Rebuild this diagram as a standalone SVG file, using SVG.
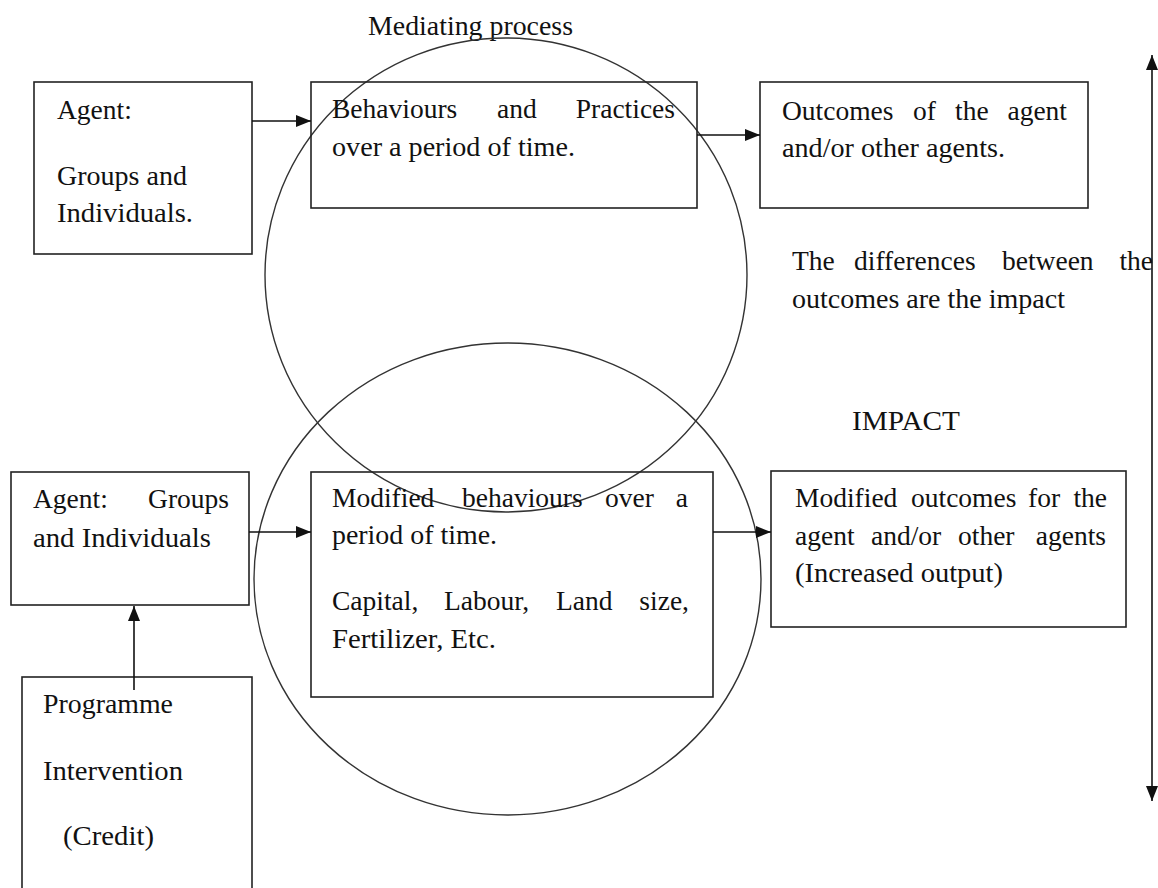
<svg xmlns="http://www.w3.org/2000/svg" width="1158" height="888" viewBox="0 0 1158 888">
<style>
.box{fill:none;stroke:#222;stroke-width:1.6}
.c{fill:none;stroke:#333;stroke-width:1.4}
.ln{fill:none;stroke:#111;stroke-width:1.6}
text{font-family:"Liberation Serif","Times New Roman",serif;font-size:27.5px;fill:#111}
.e{text-anchor:end}
</style>
<defs>
<marker id="ah" viewBox="0 0 15 12" refX="15" refY="6" markerWidth="15" markerHeight="12" markerUnits="userSpaceOnUse" orient="auto"><path d="M0,0 L15,6 L0,12 z" fill="#111"/></marker>
</defs>
<rect width="1158" height="888" fill="#fff"/>
<text x="368" y="35" textLength="205" lengthAdjust="spacingAndGlyphs">Mediating process</text>
<g id="circles">
<ellipse class="c" cx="506" cy="275" rx="241" ry="237"/>
<ellipse class="c" cx="507.5" cy="579" rx="253.5" ry="236"/>
</g>
<g id="agent1">
<rect class="box" x="34" y="82" width="218" height="172"/>
<text x="57" y="119">Agent:</text>
<text x="57" y="185" textLength="130" lengthAdjust="spacingAndGlyphs">Groups and</text>
<text x="57" y="222" textLength="136" lengthAdjust="spacingAndGlyphs">Individuals.</text>
</g>
<g id="behaviours">
<rect class="box" x="311" y="82" width="386" height="126"/>
<text y="118"><tspan x="332">Behaviours</tspan><tspan x="497">and</tspan></text>
<text class="e" x="675" y="118">Practices</text>
<text x="332" y="156" textLength="243" lengthAdjust="spacingAndGlyphs">over a period of time.</text>
</g>
<g id="outcomes">
<rect class="box" x="760" y="82" width="328" height="126"/>
<text y="120"><tspan x="782">Outcomes</tspan><tspan x="913">of</tspan><tspan x="955">the</tspan></text>
<text class="e" x="1067" y="120">agent</text>
<text x="782" y="157" textLength="223" lengthAdjust="spacingAndGlyphs">and/or other agents.</text>
</g>
<g id="differences">
<text y="270"><tspan x="792">The</tspan><tspan x="854">differences</tspan><tspan x="1002">between</tspan></text>
<text class="e" x="1153" y="270">the</text>
<text x="792" y="308" textLength="273" lengthAdjust="spacingAndGlyphs">outcomes are the impact</text>
</g>
<g id="impact">
<text x="852" y="430" textLength="108" lengthAdjust="spacingAndGlyphs">IMPACT</text>
</g>
<g id="agent2">
<rect class="box" x="11" y="472" width="238" height="133"/>
<text x="33" y="508">Agent:</text>
<text class="e" x="229" y="508">Groups</text>
<text x="33" y="547" textLength="178" lengthAdjust="spacingAndGlyphs">and Individuals</text>
</g>
<g id="modified-behaviours">
<rect class="box" x="311" y="472" width="402" height="225"/>
<text y="507"><tspan x="332">Modified</tspan><tspan x="462">behaviours</tspan><tspan x="605">over</tspan></text>
<text class="e" x="688" y="507">a</text>
<text x="332" y="544" textLength="165" lengthAdjust="spacingAndGlyphs">period of time.</text>
<text y="610"><tspan x="332">Capital,</tspan><tspan x="444">Labour,</tspan><tspan x="556">Land</tspan></text>
<text class="e" x="689" y="610">size,</text>
<text x="332" y="648" textLength="164" lengthAdjust="spacingAndGlyphs">Fertilizer, Etc.</text>
</g>
<g id="modified-outcomes">
<rect class="box" x="771" y="471" width="355" height="156"/>
<text y="507"><tspan x="795">Modified</tspan><tspan x="911">outcomes</tspan><tspan x="1028">for</tspan></text>
<text class="e" x="1107" y="507">the</text>
<text y="545"><tspan x="795">agent</tspan><tspan x="871">and/or</tspan><tspan x="958">other</tspan></text>
<text class="e" x="1106" y="545">agents</text>
<text x="795" y="582" textLength="208" lengthAdjust="spacingAndGlyphs">(Increased output)</text>
</g>
<g id="programme">
<rect class="box" x="22" y="677" width="230" height="220"/>
<text x="43" y="713" textLength="130" lengthAdjust="spacingAndGlyphs">Programme</text>
<text x="43" y="780" textLength="140" lengthAdjust="spacingAndGlyphs">Intervention</text>
<text x="63" y="845" textLength="91" lengthAdjust="spacingAndGlyphs">(Credit)</text>
</g>
<g id="connectors">
<line class="ln" x1="252" y1="121" x2="311" y2="121" marker-end="url(#ah)"/>
<line class="ln" x1="697" y1="135" x2="760" y2="135" marker-end="url(#ah)"/>
<line class="ln" x1="249" y1="532" x2="311" y2="532" marker-end="url(#ah)"/>
<line class="ln" x1="713" y1="532" x2="771" y2="532" marker-end="url(#ah)"/>
<line class="ln" x1="134" y1="690" x2="134" y2="606" marker-end="url(#ah)"/>
<line class="ln" x1="1152" y1="420" x2="1152" y2="55" marker-end="url(#ah)"/>
<line class="ln" x1="1152" y1="420" x2="1152" y2="801" marker-end="url(#ah)"/>
</g>
</svg>
